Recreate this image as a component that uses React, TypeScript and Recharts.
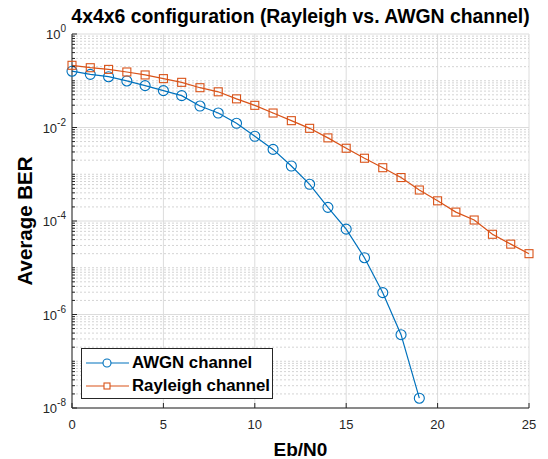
import React from "react";
import {
  LineChart,
  Line,
  XAxis,
  YAxis,
  CartesianGrid,
  ReferenceLine,
  Legend,
} from "recharts";

const ebN0 = [0, 1, 2, 3, 4, 5, 6, 7, 8, 9, 10, 11, 12, 13, 14, 15, 16, 17, 18, 19, 20, 21, 22, 23, 24, 25];

const awgnBer = [
  0.16, 0.137, 0.122, 0.099, 0.0785, 0.0616, 0.048, 0.0288, 0.0204, 0.0123,
  0.0065, 0.0034, 0.0015, 6.1e-4, 1.96e-4, 6.7e-5, 1.64e-5, 2.93e-6, 3.7e-7, 1.62e-8,
];

const rayleighBer = [
  0.214, 0.19, 0.175, 0.154, 0.133, 0.111, 0.0925, 0.071, 0.058, 0.041,
  0.0298, 0.0204, 0.014, 0.0096, 0.006, 0.0036, 0.0022, 0.00138, 8.5e-4, 4.6e-4,
  2.7e-4, 1.55e-4, 1.05e-4, 5.2e-5, 3.2e-5, 2.0e-5,
];

const xTicks = [0, 5, 10, 15, 20, 25];
const yMajorExp = [0, -2, -4, -6, -8];

const AWGN_COLOR = "#0072BD";
const RAY_COLOR = "#D95319";
const AXIS_COLOR = "#262626";
const GRID_COLOR = "#dcdcdc";
const FONT = "'Liberation Sans', Arial, Helvetica, sans-serif";

const yMajor = yMajorExp.map((e) => Math.pow(10, e));

// every 1..9 x 10^k between 1e-8 and 1 (log-axis minor positions)
const yAll: number[] = [];
for (let k = -8; k < 0; k++) {
  for (let m = 1; m < 10; m++) yAll.push(m * Math.pow(10, k));
}
yAll.push(1);
const yMinor = yAll.filter((v) => !yMajor.some((t) => Math.abs(Math.log10(v) - Math.log10(t)) < 1e-9));

const data = ebN0.map((x, i) => ({
  x,
  awgn: i < awgnBer.length ? awgnBer[i] : null,
  rayleigh: rayleighBer[i],
}));

const majorExp = (v: number) => {
  const e = Math.log10(v);
  const r = Math.round(e);
  return Math.abs(e - r) < 1e-9 && yMajorExp.includes(r) ? r : null;
};

const LeftTick = (props: any) => {
  const { x, y, payload } = props;
  const e = majorExp(payload.value);
  return (
    <g>
      <line x1={x} x2={x + (e !== null ? 5 : 3)} y1={y} y2={y} stroke={AXIS_COLOR} strokeWidth={1} />
      {e !== null && (
        <text x={x - 6} y={y + 5} textAnchor="end" fontFamily={FONT} fontSize={13} fill={AXIS_COLOR}>
          10
          <tspan dy={-7} fontSize={10}>
            {e}
          </tspan>
        </text>
      )}
    </g>
  );
};

const RightTick = (props: any) => {
  const { x, y, payload } = props;
  const e = majorExp(payload.value);
  return <line x1={x} x2={x - (e !== null ? 5 : 3)} y1={y} y2={y} stroke={AXIS_COLOR} strokeWidth={1} />;
};

const BottomTick = (props: any) => {
  const { x, y, payload } = props;
  return (
    <g>
      <line x1={x} x2={x} y1={y} y2={y - 5} stroke={AXIS_COLOR} strokeWidth={1} />
      <text x={x} y={y + 21} textAnchor="middle" fontFamily={FONT} fontSize={13} fill={AXIS_COLOR}>
        {payload.value}
      </text>
    </g>
  );
};

const TopTick = (props: any) => {
  const { x, y } = props;
  return <line x1={x} x2={x} y1={y} y2={y + 5} stroke={AXIS_COLOR} strokeWidth={1} />;
};

const SquareDot = (props: any) => {
  const { cx, cy, index } = props;
  if (cx == null || cy == null) return null;
  return <rect key={index} x={cx - 4} y={cy - 4} width={8} height={8} fill="none" stroke={RAY_COLOR} strokeWidth={1.1} />;
};

const CircleDot = (props: any) => {
  const { cx, cy, index, value } = props;
  if (cx == null || cy == null || value == null) return null;
  return <circle key={index} cx={cx} cy={cy} r={5} fill="none" stroke={AWGN_COLOR} strokeWidth={1.1} />;
};

const legendItems = [
  { name: "AWGN channel", color: AWGN_COLOR, marker: "circle" },
  { name: "Rayleigh channel", color: RAY_COLOR, marker: "square" },
];

const LegendBox = () => (
  <div
    style={{
      border: `1px solid ${AXIS_COLOR}`,
      background: "#fff",
      width: 192,
      height: 51,
      boxSizing: "border-box",
      padding: "2px 0 0 3px",
      fontFamily: FONT,
    }}
  >
    {legendItems.map((it) => (
      <div key={it.name} style={{ display: "flex", alignItems: "center", height: 23 }}>
        <svg width={46} height={14} style={{ marginRight: 1 }}>
          <line x1={1} x2={44} y1={7} y2={7} stroke={it.color} strokeWidth={1.2} />
          {it.marker === "circle" ? (
            <circle cx={22} cy={7} r={4} fill="#fff" stroke={it.color} strokeWidth={1.1} />
          ) : (
            <rect x={19} y={4} width={6} height={6} fill="#fff" stroke={it.color} strokeWidth={1.1} />
          )}
        </svg>
        <span style={{ fontWeight: "bold", fontSize: 16.8, color: "#000", whiteSpace: "nowrap" }}>{it.name}</span>
      </div>
    ))}
  </div>
);

const YLabel = (props: any) => {
  const { viewBox } = props;
  const cx = viewBox.x + 24;
  const cy = viewBox.y + viewBox.height / 2;
  return (
    <text
      x={cx}
      y={cy}
      transform={`rotate(-90 ${cx} ${cy})`}
      textAnchor="middle"
      dominantBaseline="central"
      fontFamily={FONT}
      fontWeight="bold"
      fontSize={20.5}
      fill="#000"
    >
      Average BER
    </text>
  );
};

const XLabel = (props: any) => {
  const { viewBox } = props;
  const cx = viewBox.x + viewBox.width / 2;
  return (
    <text x={cx} y={viewBox.y + 48} textAnchor="middle" fontFamily={FONT} fontWeight="bold" fontSize={19} fill="#000">
      Eb/N0
    </text>
  );
};

export default function App() {
  return (
    <div style={{ position: "relative", width: 548, height: 459, background: "#fff" }}>
      <style>{`body{margin:0}`}</style>
      <div
        style={{
          position: "absolute",
          left: 62,
          width: 477,
          top: 5,
          textAlign: "center",
          fontFamily: FONT,
          fontWeight: "bold",
          fontSize: 19.4,
          color: "#000",
          lineHeight: "22px",
          whiteSpace: "nowrap",
        }}
      >
        4x4x6 configuration (Rayleigh vs. AWGN channel)
      </div>
      <LineChart width={548} height={459} data={data} margin={{ top: 34, right: 19, bottom: 0, left: 0 }}>
        <CartesianGrid
          stroke={GRID_COLOR}
          strokeWidth={1}
          horizontal={false}
          verticalValues={xTicks}
        />
        {yMinor.map((v) => (
          <ReferenceLine key={`m${v}`} y={v} stroke="#d4d4d4" strokeDasharray="2 2" strokeWidth={1} />
        ))}
        {yMajor.map((v) => (
          <ReferenceLine key={`M${v}`} y={v} stroke={GRID_COLOR} strokeWidth={1} />
        ))}
        <XAxis
          dataKey="x"
          type="number"
          domain={[0, 25]}
          ticks={xTicks}
          interval={0}
          height={51}
          tickSize={0}
          tickMargin={0}
          tickLine={false}
          axisLine={{ stroke: AXIS_COLOR }}
          tick={<BottomTick />}
          label={<XLabel />}
        />
        <XAxis
          xAxisId="top"
          orientation="top"
          dataKey="x"
          type="number"
          domain={[0, 25]}
          ticks={xTicks}
          interval={0}
          height={0}
          tickSize={0}
          tickMargin={0}
          tickLine={false}
          axisLine={{ stroke: AXIS_COLOR }}
          tick={<TopTick />}
        />
        <YAxis
          scale="log"
          domain={[1e-8, 1]}
          ticks={yAll}
          interval={0}
          width={72}
          tickSize={0}
          tickMargin={0}
          tickLine={false}
          allowDataOverflow
          axisLine={{ stroke: AXIS_COLOR }}
          tick={<LeftTick />}
          label={<YLabel />}
        />
        <YAxis
          yAxisId="right"
          orientation="right"
          scale="log"
          domain={[1e-8, 1]}
          ticks={yAll}
          interval={0}
          width={0}
          tickSize={0}
          tickMargin={0}
          tickLine={false}
          allowDataOverflow
          axisLine={{ stroke: AXIS_COLOR }}
          tick={<RightTick />}
        />
        <Line
          dataKey="awgn"
          stroke={AWGN_COLOR}
          strokeWidth={1.2}
          dot={<CircleDot />}
          activeDot={false}
          isAnimationActive={false}
          connectNulls={false}
        />
        <Line
          dataKey="rayleigh"
          stroke={RAY_COLOR}
          strokeWidth={1.2}
          dot={<SquareDot />}
          activeDot={false}
          isAnimationActive={false}
        />
        <Legend
          layout="vertical"
          align="center"
          verticalAlign="middle"
          content={<LegendBox />}
          wrapperStyle={{ position: "absolute", left: 81, top: 348, width: 192, height: 51 }}
        />
      </LineChart>
    </div>
  );
}
